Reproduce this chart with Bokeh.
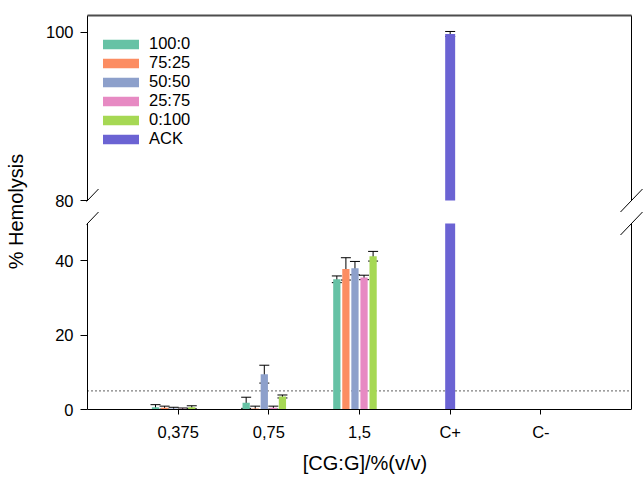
from bokeh.plotting import figure
from bokeh.models import (Range1d, FixedTicker, Whisker, TeeHead, ColumnDataSource,
                          Legend, LegendItem)
from bokeh.embed import file_html
from bokeh.resources import INLINE

# ---------------- data ----------------
categories = ["0,375", "0,75", "1,5", "C+", "C-"]
series = ["100:0", "75:25", "50:50", "25:75", "0:100"]
colors = ["#66c2a5", "#fc8d62", "#8da0cb", "#e78ac3", "#a6d854"]

mean_100_0 = [0.6, 1.8, 35.0, 0, 0]
mean_75_25 = [0.5, 0.3, 37.8, 0, 0]
mean_50_50 = [0.3, 9.5, 38.0, 0, 0]
mean_25_75 = [0.2, 0.5, 35.5, 0, 0]
mean_0_100 = [0.6, 3.5, 41.2, 0, 0]

sd_100_0 = [0.7, 1.5, 0.9, 0, 0]
sd_75_25 = [0.4, 0.6, 3.0, 0, 0]
sd_50_50 = [0.3, 2.4, 1.8, 0, 0]
sd_25_75 = [0.2, 0.4, 0.6, 0, 0]
sd_0_100 = [0.4, 0.4, 1.3, 0, 0]

means = [mean_100_0, mean_75_25, mean_50_50, mean_25_75, mean_0_100]
sds = [sd_100_0, sd_75_25, sd_50_50, sd_25_75, sd_0_100]

ack_label = "ACK"
ack_category = ["C+"]
ack_mean = [99.8]
ack_sd = [0.3]
ack_color = "#6b63d3"

threshold = 5
lower_ticks = [0, 20, 40]
upper_ticks = [80, 100]
lower_lim = (0, 50)
upper_lim = (80, 102)

# ---------------- layout constants (pixels) ----------------
W, H = 643, 477
FRAME_LEFT, FRAME_TOP, FRAME_BOTTOM = 86, 13, 409
AXIS_X = 87            # where the visual y axis sits
BOX_RIGHT = 631        # visual right border
LO_FH = 186            # height of lower panel
GAP = 23               # gap between panels
UP_FH = 185            # height of upper panel
FONT = "Liberation Sans"
TICK_FS = "16.5px"
LABEL_FS = "20px"
BAR_W = 0.08
ACK_W = 0.11
STEP = 0.1

n_cat = len(categories)
x_lo, x_hi = 0, n_cat + 1
X_PPU = (BOX_RIGHT - AXIS_X) / (x_hi - x_lo)
x_range = Range1d(x_lo - (AXIS_X - FRAME_LEFT) / X_PPU, x_hi + (W - BOX_RIGHT) / X_PPU)

frame_h = FRAME_BOTTOM - FRAME_TOP
LO_PPU = LO_FH / (lower_lim[1] - lower_lim[0])
UP_PPU = UP_FH / (upper_lim[1] - upper_lim[0])
y_lower = Range1d(lower_lim[0], lower_lim[0] + frame_h / LO_PPU)
UP_START = upper_lim[0] - (LO_FH + GAP) / UP_PPU
y_upper = Range1d(UP_START, UP_START + frame_h / UP_PPU)

p = figure(width=W, height=H, x_range=x_range, y_range=y_lower,
           output_backend="svg", toolbar_location=None,
           min_border_left=FRAME_LEFT, min_border_right=0,
           min_border_top=FRAME_TOP, min_border_bottom=H - FRAME_BOTTOM,
           outline_line_color=None)
p.extra_y_ranges = {"upper": y_upper}
p.xgrid.visible = False
p.ygrid.visible = False

pos = {c: i + 1 for i, c in enumerate(categories)}

# ---------------- y axis (one axis carries both panels' ticks) ----------------
ya = p.yaxis[0]
up_tick_pos = [(t - UP_START) * UP_PPU / LO_PPU for t in upper_ticks]
ya.ticker = FixedTicker(ticks=lower_ticks + up_tick_pos)
ya.major_label_overrides = {tp: str(t) for tp, t in zip(up_tick_pos, upper_ticks)}
ya.minor_tick_line_color = None
ya.major_tick_in = 1
ya.major_tick_out = 6
ya.major_label_standoff = 7
ya.axis_line_color = None
ya.major_tick_line_color = "black"
ya.major_label_text_color = "black"
ya.major_label_text_font = FONT
ya.major_label_text_font_size = TICK_FS
ya.axis_label = "% Hemolysis"
ya.axis_label_text_font = FONT
ya.axis_label_text_font_size = LABEL_FS
ya.axis_label_text_font_style = "normal"
ya.axis_label_text_color = "black"
ya.axis_label_standoff = 16

# ---------------- x axis ----------------
xa = p.xaxis[0]
xa.ticker = FixedTicker(ticks=[pos[c] for c in categories])
xa.major_label_overrides = {pos[c]: c for c in categories}
xa.bounds = (x_lo, x_hi)
xa.minor_tick_line_color = None
xa.major_tick_in = 0
xa.major_tick_out = 5
xa.major_label_standoff = 8
xa.axis_line_color = "black"
xa.major_tick_line_color = "black"
xa.major_label_text_color = "black"
xa.major_label_text_font = FONT
xa.major_label_text_font_size = TICK_FS
xa.axis_label = "[CG:G]/%(v/v)"
xa.axis_label_text_font = FONT
xa.axis_label_text_font_size = LABEL_FS
xa.axis_label_text_font_style = "normal"
xa.axis_label_text_color = "black"
xa.axis_label_standoff = 8

# ---------------- panel borders ----------------
for xe in (x_lo, x_hi):
    p.segment(x0=[xe], y0=[upper_lim[0]], x1=[xe], y1=[upper_lim[1]],
              y_range_name="upper", line_color="black", line_width=1)
    p.segment(x0=[xe], y0=[lower_lim[0]], x1=[xe], y1=[lower_lim[1]],
              line_color="black", line_width=1)
p.segment(x0=[x_lo], y0=[upper_lim[1]], x1=[x_hi], y1=[upper_lim[1]],
          y_range_name="upper", line_color="#4d4d4d", line_width=2)

# axis break marks
for xe in (x_lo, x_hi):
    p.segment(x0=[xe - 11 / X_PPU], y0=[upper_lim[0] - 11.5 / UP_PPU],
              x1=[xe + 11 / X_PPU], y1=[upper_lim[0] + 11.5 / UP_PPU],
              y_range_name="upper", line_color="black", line_width=1)
    p.segment(x0=[xe - 11 / X_PPU], y0=[lower_lim[1] - 11.5 / LO_PPU],
              x1=[xe + 11 / X_PPU], y1=[lower_lim[1] + 11.5 / LO_PPU],
              line_color="black", line_width=1)

# threshold line
p.segment(x0=[x_lo], y0=[threshold], x1=[x_hi], y1=[threshold],
          line_color="black", line_width=1.2, line_dash="1 3")


def whisker(src, yr="default"):
    return Whisker(source=src, base="x", lower="lower", upper="upper",
                   dimension="height", line_color="black", line_width=1,
                   y_range_name=yr,
                   upper_head=TeeHead(size=10, line_color="black", line_width=1),
                   lower_head=TeeHead(size=10, line_color="black", line_width=1))


# ---------------- bars ----------------
n_slots = len(series) + 1
items = []
for i, s in enumerate(series):
    off = (i - (n_slots - 1) / 2) * STEP
    xs = [pos[c] + off for c in categories]
    m = means[i]
    sd = sds[i]
    src_lo = ColumnDataSource(dict(x=xs, top=[min(v, lower_lim[1]) for v in m]))
    p.vbar(x="x", top="top", bottom=lower_lim[0], width=BAR_W, source=src_lo,
           fill_color=colors[i], line_color=None)
    src_up = ColumnDataSource(dict(x=xs, top=[max(v, upper_lim[0]) for v in m]))
    r_up = p.vbar(x="x", top="top", bottom=upper_lim[0], width=BAR_W, source=src_up,
                  y_range_name="upper", fill_color=colors[i], line_color=None)
    items.append(LegendItem(label=s, renderers=[r_up]))
    for yr, lim in (("upper", upper_lim), ("default", lower_lim)):
        keep = [k for k in range(len(m)) if sd[k] > 0 and lim[0] <= m[k] <= lim[1]]
        if keep:
            p.add_layout(whisker(ColumnDataSource(dict(
                x=[xs[k] for k in keep],
                lower=[m[k] - sd[k] for k in keep],
                upper=[m[k] + sd[k] for k in keep])), yr))

ack_x = [pos[c] for c in ack_category]
ack_lo = ColumnDataSource(dict(x=ack_x, top=[min(v, lower_lim[1]) for v in ack_mean]))
p.vbar(x="x", top="top", bottom=lower_lim[0], width=ACK_W, source=ack_lo,
       fill_color=ack_color, line_color=None)
ack_up = ColumnDataSource(dict(x=ack_x, top=[max(v, upper_lim[0]) for v in ack_mean]))
r_ack = p.vbar(x="x", top="top", bottom=upper_lim[0], width=ACK_W, source=ack_up,
               y_range_name="upper", fill_color=ack_color, line_color=None)
items.append(LegendItem(label=ack_label, renderers=[r_ack]))
p.add_layout(whisker(ColumnDataSource(dict(
    x=ack_x,
    lower=[v - s for v, s in zip(ack_mean, ack_sd)],
    upper=[v + s for v, s in zip(ack_mean, ack_sd)])), "upper"))

# legend (position measured from the frame's bottom-left corner)
leg = Legend(items=items, location=(12, 261), margin=0, padding=0, spacing=0,
             glyph_width=45, glyph_height=12, label_height=19, label_standoff=6,
             label_text_font=FONT, label_text_font_size=TICK_FS,
             label_text_color="black", border_line_color=None,
             background_fill_alpha=0)
p.add_layout(leg)

open("out.html", "w").write(file_html(p, INLINE))
